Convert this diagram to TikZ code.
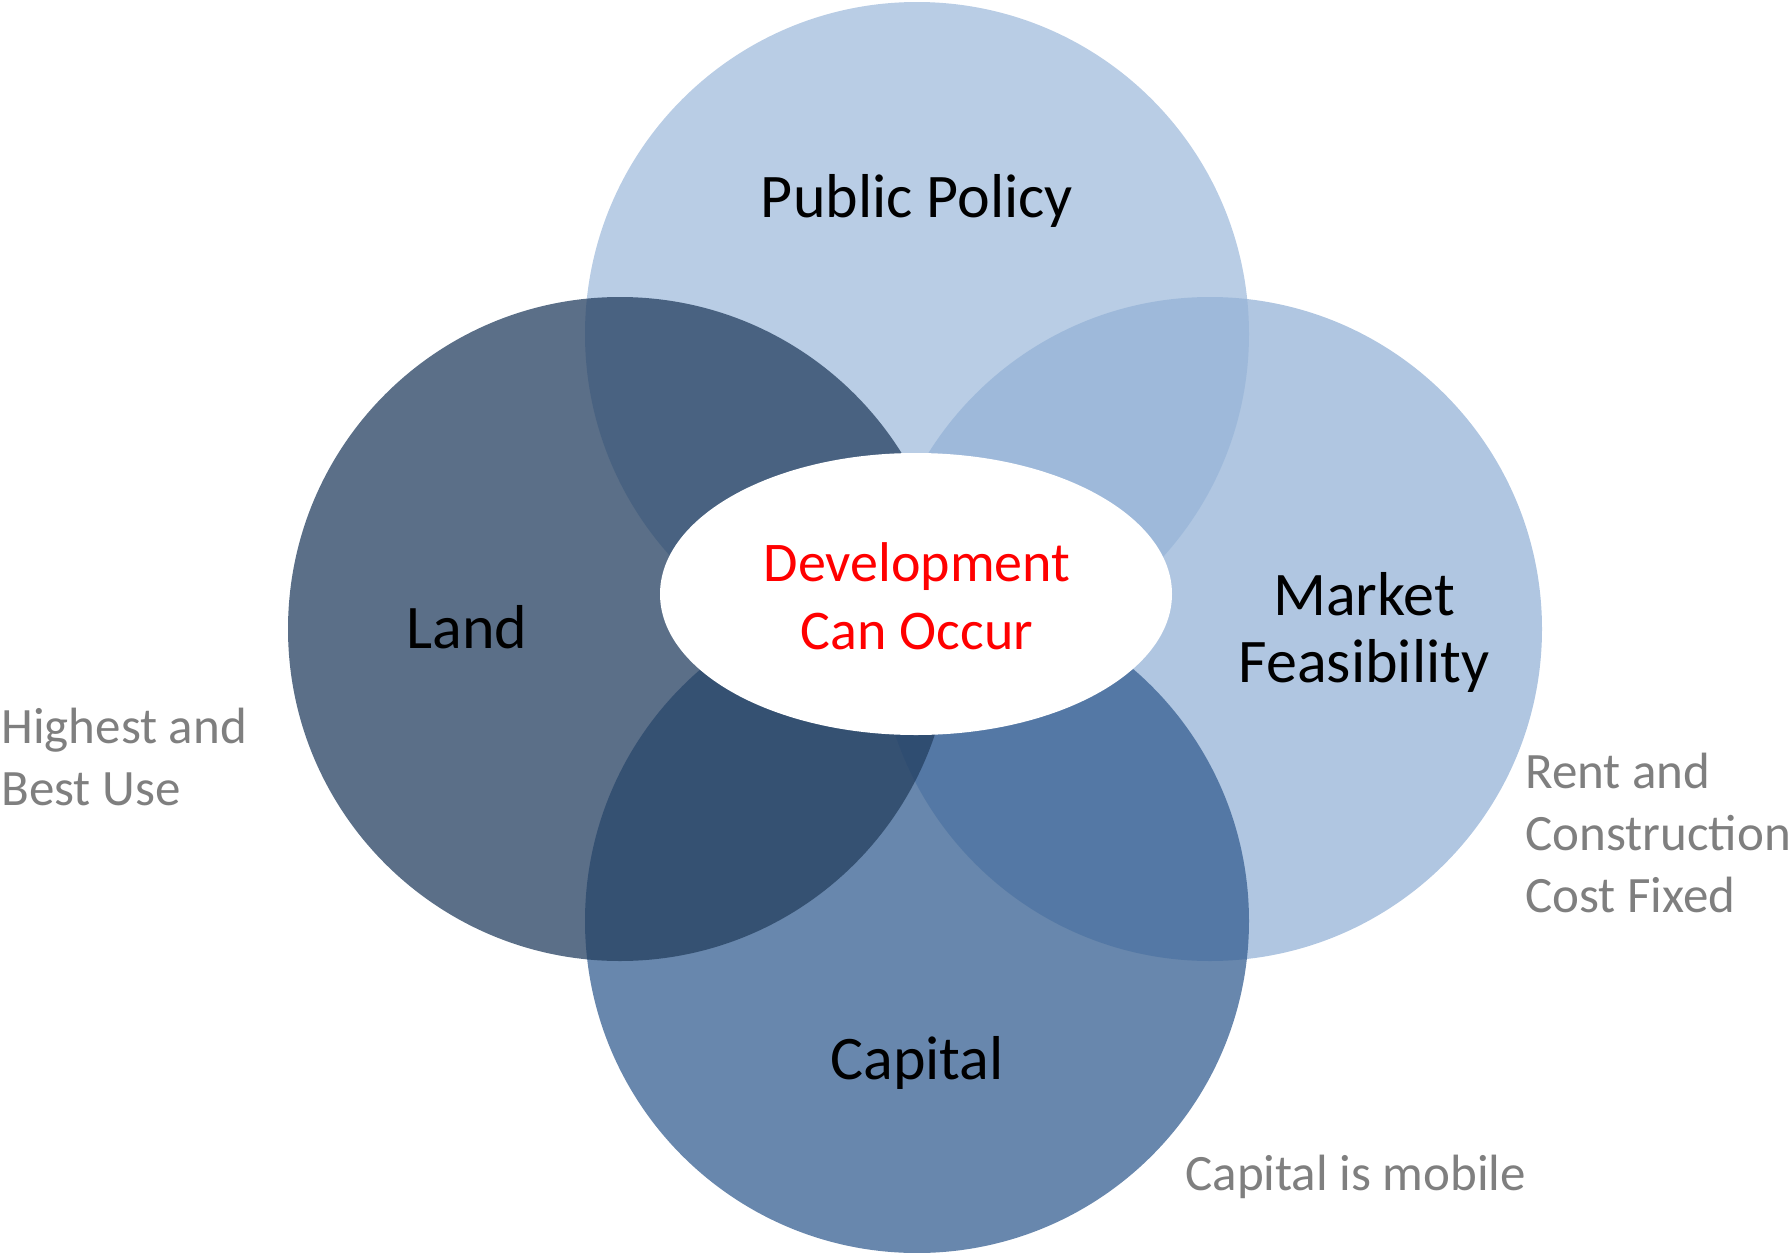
\documentclass[tikz,border=0pt]{standalone}
\usepackage{fontspec}
\setmainfont{Carlito}
\usetikzlibrary{shapes.geometric}

\definecolor{policyblue}{HTML}{B9CDE5}
\definecolor{marketblue}{HTML}{95B3D7}
\definecolor{capitalblue}{HTML}{365F91}
\definecolor{landblue}{HTML}{243F60}
\definecolor{notegray}{HTML}{7F7F7F}
\definecolor{devred}{HTML}{FF0000}

\tikzset{
  circ/.style={circle, draw=none, inner sep=0pt, minimum size=332pt},
  lbl/.style={font={\fontsize{31pt}{33.5pt}\selectfont}, text=black, align=center, inner sep=0pt},
  devlbl/.style={font={\fontsize{28pt}{34pt}\selectfont}, text=devred, align=center, inner sep=0pt},
  note/.style={font={\fontsize{25.5pt}{31pt}\selectfont}, text=notegray, align=left, inner sep=0pt},
}

\begin{document}
\begin{tikzpicture}[x=0.5pt, y=-0.5pt]
  \useasboundingbox (0,0) rectangle (1790,1253);

  % four overlapping factor circles
  \node[circ, fill=policyblue] (policy) at (917,334) {};
  \node[circ, fill=marketblue, fill opacity=0.75] (market) at (1210,629) {};
  \node[circ, fill=capitalblue, fill opacity=0.75] (capital) at (917,921) {};
  \node[circ, fill=landblue, fill opacity=0.75] (land) at (620,629) {};

  % central outcome
  \node[ellipse, fill=white, draw=none, inner sep=0pt,
        minimum width=256pt, minimum height=141pt] (dev) at (916,594) {};

  % circle labels (base anchor = baseline of the last line)
  \node[lbl, anchor=base] (policytxt) at (917,217) {Public Policy};
  \node[lbl, anchor=base] (landtxt) at (467,648) {Land};
  \node[lbl, anchor=base] (markettxt) at (1364,682) {Market\\Feasibility};
  \node[lbl, anchor=base] (capitaltxt) at (917,1079) {Capital};
  \node[devlbl, anchor=base] (devtxt) at (917,649) {Development\\Can Occur};

  % side notes
  \node[note, anchor=base west] (hbu) at (1,805) {Highest and\\Best Use};
  \node[note, anchor=base west] (rent) at (1525,912) {Rent and\\Construction\\Cost Fixed};
  \node[note, anchor=base west] (mobile) at (1185,1190) {Capital is mobile};
\end{tikzpicture}
\end{document}
